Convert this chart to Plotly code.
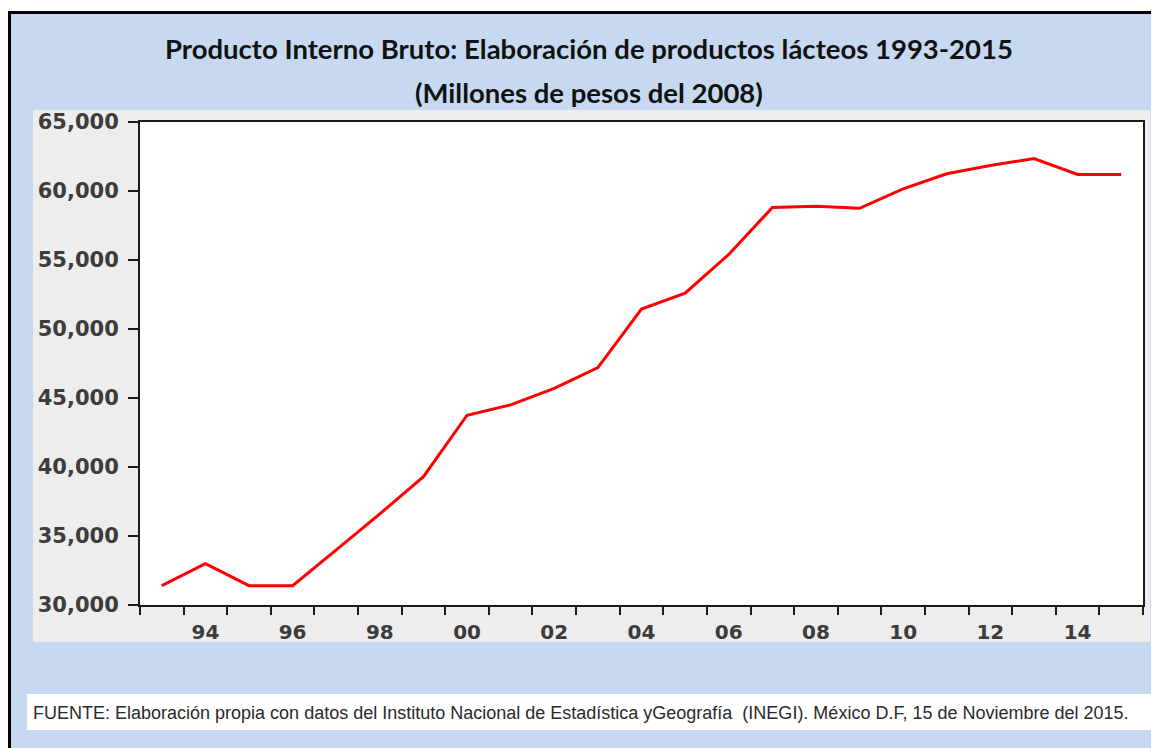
"""PIB de elaboración de productos lácteos 1993-2015."""

import plotly.graph_objects as go

years = list(range(1993, 2016))
pib = [
    31400, 33000, 31400, 31400, 34000, 36600, 39300, 43750, 44500, 45700,
    47200, 51450, 52600, 55400, 58800, 58900, 58750, 60150, 61250, 61850,
    62350, 61200, 61200,
]
label_years = list(range(1994, 2015, 2))
label_text = ["94", "96", "98", "00", "02", "04", "06", "08", "10", "12", "14"]
y_ticks = list(range(30000, 65001, 5000))

title_1 = "Producto Interno Bruto: Elaboración de productos lácteos 1993-2015"
title_2 = "(Millones de pesos del 2008)"
fuente = (
    "FUENTE: Elaboración propia con datos del Instituto Nacional de "
    "Estadística yGeografía  (INEGI). México D.F, 15 de Noviembre del 2015."
)

# page is offset by the 8px body margin
OFF = 8
W, H = 1159 - OFF, 748 - OFF
L, R, T, B = 140, 1143, 122, 605


def px(x):
    return (x - L) / (R - L)


def py(y):
    return (B - y) / (B - T)


def rect(x0, y0, x1, y1, fill):
    return dict(
        type="rect", xref="paper", yref="paper", layer="below",
        x0=px(x0), x1=px(x1), y0=py(y1), y1=py(y0),
        fillcolor=fill, line=dict(width=0),
    )


def main():
    fig = go.Figure()
    fig.add_scatter(
        x=years, y=pib, mode="lines",
        line=dict(color="#ff0000", width=3),
        hoverinfo="x+y", showlegend=False,
    )

    y_font = dict(family="DejaVu Sans", size=21, color="#3c3c3c", weight="bold")
    x_font = dict(family="DejaVu Sans", size=20, color="#3c3c3c", weight="bold")
    title_font = dict(family="Lato", size=27.5, color="#111111", weight="bold")

    fig.update_layout(
        width=W, height=H,
        margin=dict(l=L - OFF, r=1159 - R, t=T - OFF, b=H + OFF - B),
        paper_bgcolor="white",
        plot_bgcolor="rgba(0,0,0,0)",
        shapes=[
            rect(8, 11, 1159, 748, "#c6d9f1"),
            # black frame: left and top edges only
            rect(8, 11, 11, 748, "black"),
            rect(8, 11, 1159, 14, "black"),
            rect(33, 110, 1150, 642, "#ededed"),
            rect(L, T, R, B, "white"),
            rect(27, 694, 1152, 730, "white"),
        ],
        annotations=[
            dict(text=title_1, x=px(589), y=py(48), xref="paper", yref="paper",
                 showarrow=False, xanchor="center", yanchor="middle",
                 font=title_font),
            dict(text=title_2, x=px(589), y=py(92), xref="paper", yref="paper",
                 showarrow=False, xanchor="center", yanchor="middle",
                 font=title_font),
            dict(text=fuente, x=px(31), y=py(713), xref="paper", yref="paper",
                 showarrow=False, xanchor="left", yanchor="middle",
                 font=dict(family="Liberation Sans", size=18, color="#2a2a2a")),
        ],
    )

    fig.update_xaxes(
        range=[1992.5, 2015.5],
        showgrid=False, zeroline=False,
        showline=True, linecolor="#1a1a1a", linewidth=2, mirror=True,
        tickmode="array", tickvals=label_years, ticktext=label_text,
        ticks="outside", ticklen=8, tickcolor="rgba(0,0,0,0)",
        tickfont=x_font,
        minor=dict(
            tickmode="array",
            tickvals=[y - 0.5 for y in years] + [years[-1] + 0.5],
            ticks="outside", ticklen=8, tickwidth=2, tickcolor="#1a1a1a",
            showgrid=False,
        ),
    )
    fig.update_yaxes(
        range=[30000, 65000],
        showgrid=False, zeroline=False,
        showline=True, linecolor="#1a1a1a", linewidth=2, mirror=True,
        tickmode="array", tickvals=y_ticks, tickformat=",",
        ticks="outside", ticklen=10, tickwidth=2, tickcolor="#1a1a1a",
        ticklabelstandoff=5,
        tickfont=y_font,
    )

    fig.write_html("out.html")


if __name__ == "__main__":
    main()
